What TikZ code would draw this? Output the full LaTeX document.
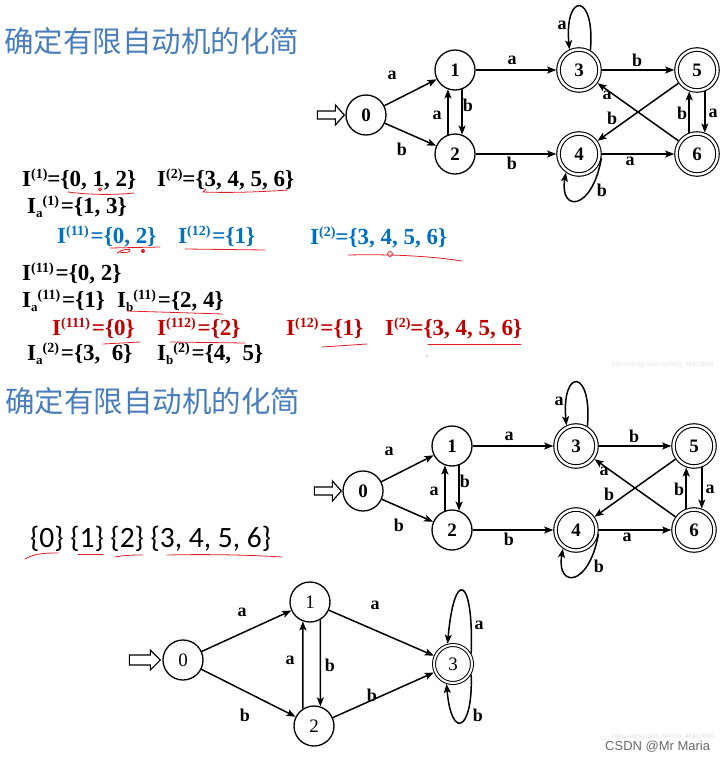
\documentclass[tikz,border=0pt]{standalone}
\usepackage{fontspec}
\setmainfont{Liberation Serif}
\newfontfamily\cjkf{Noto Sans CJK SC}
\newfontfamily\carlitof{Carlito}
\newfontfamily\arialf{Liberation Sans}
\usetikzlibrary{arrows.meta,calc}
\definecolor{titleblue}{RGB}{74,126,187}
\definecolor{fblue}{RGB}{0,112,192}
\definecolor{fred}{RGB}{192,0,0}
\definecolor{penred}{RGB}{226,32,38}
\newcommand{\Sp}[1]{\raisebox{8pt}{\fontsize{14}{14}\selectfont(#1)}}
\newcommand{\Sb}[1]{\raisebox{-4pt}{\fontsize{13}{13}\selectfont #1}}
\newcommand{\Iu}[1]{I\Sp{#1}}
\newcommand{\Iab}[2]{I\Sb{#1}\Sp{#2}}
\tikzset{
  st/.style={circle, draw, line width=1.3pt, minimum size=40pt, inner sep=0pt, outer sep=0.65pt, font=\fontsize{19}{19}\bfseries\selectfont},
  acc/.style={circle, draw, double, double distance=2.4pt, line width=1.1pt, minimum size=41pt, inner sep=0pt, outer sep=2.3pt, font=\fontsize{19}{19}\bfseries\selectfont},
  st3/.style={circle, draw, line width=1.3pt, minimum size=40pt, inner sep=0pt, outer sep=0.65pt, font=\fontsize{19}{19}\selectfont},
  acc3/.style={circle, draw, double, double distance=2pt, line width=1pt, minimum size=38pt, inner sep=0pt, outer sep=2pt, font=\fontsize{19}{19}\selectfont},
  tr/.style={-{Stealth[length=9pt,width=7pt,inset=2pt]}, line width=1.5pt},
  lbl/.style={font=\fontsize{18}{18}\bfseries\selectfont, inner sep=0pt},
  startarr/.style={line width=1.2pt, line join=miter},
  fml/.style={anchor=base west, font=\fontsize{23}{23}\bfseries\selectfont, inner sep=0pt},
  ttl/.style={anchor=west, font=\cjkf\fontsize{29.5}{29.5}\selectfont, text=titleblue, inner sep=0pt},
  pen/.style={penred, line width=0.8pt, line cap=round},
}
\newcommand{\bigdfa}[3]{%
\begin{scope}[shift={(#2,#3)}]
\node[st] (#1n0) at (366,-115) {0};
\node[st] (#1n1) at (455,-70) {1};
\node[st] (#1n2) at (455,-154) {2};
\node[acc] (#1n3) at (579,-70) {3};
\node[acc] (#1n5) at (697,-70) {5};
\node[acc] (#1n4) at (579,-154) {4};
\node[acc] (#1n6) at (697,-154) {6};
\draw[startarr] ($(#1n0.west)+(-1,0)$) -- ++(-9,10) -- ++(0,-6) -- ++(-18,0) -- ++(0,-8) -- ++(18,0) -- ++(0,-6) -- cycle;
\draw[tr] (#1n0) -- (#1n1);
\draw[tr] (#1n0) -- (#1n2);
\draw[tr] (#1n1.-70) -- (#1n2.70);
\draw[tr] (#1n2.110) -- (#1n1.-110);
\draw[tr] (#1n1) -- (#1n3);
\draw[tr] (#1n2) -- (#1n4);
\draw[tr] (#1n3) -- (#1n5);
\draw[tr] (#1n4) -- (#1n6);
\draw[tr] (#1n5.-70) -- (#1n6.70);
\draw[tr] (#1n6.110) -- (#1n5.-110);
\draw[tr] (#1n6) -- (#1n3);
\draw[tr] (#1n5) -- (#1n4);
\draw[tr] (#1n3.60) .. controls +(85:58) and +(95:58) .. (#1n3.115);
\draw[tr] (#1n4.-10) .. controls +(-100:55) and +(-100:40) .. (#1n4.-125);
\node[lbl] (#1l01) at (392,-75) {a};
\node[lbl] (#1l02) at (402,-149) {b};
\node[lbl] (#1l12) at (468,-105) {b};
\node[lbl] (#1l21) at (437,-115) {a};
\node[lbl] (#1l13) at (512,-60) {a};
\node[lbl] (#1l24) at (512,-163) {b};
\node[lbl] (#1l33) at (562,-25) {a};
\node[lbl] (#1l35) at (637,-60) {b};
\node[lbl] (#1l46) at (630,-161) {a};
\node[lbl] (#1l44) at (602,-190) {b};
\node[lbl] (#1l63) at (607,-95) {a};
\node[lbl] (#1l54) at (612,-118) {b};
\node[lbl] (#1l65) at (682,-113) {b};
\node[lbl] (#1l56) at (713,-113) {a};
\end{scope}}
\begin{document}
\begin{tikzpicture}[x=1pt,y=1pt]
\fill[white] (0,0) rectangle (724,-761);
\useasboundingbox (0,0) rectangle (724,-761);
% titles
\node[ttl] (title1) at (4,-41) {确定有限自动机的化简};
\node[ttl] (title2) at (5,-401) {确定有限自动机的化简};
% DFAs
\bigdfa{A}{0}{0}
\bigdfa{B}{-3}{-376}
% formulas
\node[fml] (f1a) at (22,-186) {\Iu{1}=\{0, 1, 2\}};
\node[fml] (f1b) at (157,-186) {\Iu{2}=\{3, 4, 5, 6\}};
\node[fml] (f2) at (27,-213) {\Iab{a}{1}\kern2pt=\{1, 3\}};
\node[fml, text=fblue] (f3a) at (57,-243) {\Iu{11}\kern2pt=\{0, 2\}};
\node[fml, text=fblue] (f3b) at (178,-243) {\Iu{12}\kern2pt=\{1\}};
\node[fml, text=fblue] (f3c) at (310,-244) {\Iu{2}=\{3, 4, 5, 6\}};
\node[fml] (f4) at (22,-280) {\Iu{11}\kern2pt=\{0, 2\}};
\node[fml] (f5a) at (22,-307) {\Iab{a}{11}\kern2pt=\{1\}};
\node[fml] (f5b) at (117,-307) {\Iab{b}{11}\kern2pt=\{2, 4\}};
\node[fml, text=fred] (f6a) at (52,-335) {\Iu{111}\kern2pt=\{0\}};
\node[fml, text=fred] (f6b) at (157,-335) {\Iu{112}\kern2pt=\{2\}};
\node[fml, text=fred] (f6c) at (286,-335) {\Iu{12}\kern2pt=\{1\}};
\node[fml, text=fred] (f6d) at (385,-335) {\Iu{2}=\{3, 4, 5, 6\}};
\node[fml] (f7a) at (27,-360) {\Iab{a}{2}\kern2pt=\{3,~~6\}};
\node[fml] (f7b) at (157,-360) {\Iab{b}{2}\kern2pt=\{4,~~5\}};
\node[anchor=base west, inner sep=0pt, font=\carlitof\fontsize{29.5}{29.5}\selectfont] (sets) at (30,-547) {\{0\} \{1\} \{2\} \{3, 4, 5, 6\}};
% pen marks
\draw[pen] (68,-192) .. controls (90,-195) and (115,-195) .. (134,-193);
\draw[pen] (100,-189.5) circle (1.5);
\draw[pen] (206,-189) -- (203,-192) .. controls (230,-193) and (260,-192) .. (288,-190);
\draw[pen] (110,-248) -- (160,-247);
\draw[pen] (117,-253) .. controls (122,-249) and (132,-248) .. (130,-251) .. controls (128,-253) and (122,-253) .. (120,-252);
\fill[penred] (143,-251) circle (2);
\draw[pen] (185,-249) -- (265,-250);
\draw[pen] (348,-255) .. controls (390,-254) and (430,-256) .. (462,-261);
\draw[pen] (390,-254) circle (2.5);
\draw[pen] (127,-311) -- (223,-314);
\draw[pen] (103,-344) -- (140,-342);
\draw[pen] (170,-342) -- (245,-343);
\draw[pen] (322,-347) -- (367,-344);
\draw[pen] (428,-344) -- (521,-344);
\fill[penred] (427,-356) circle (0.7);
\draw[pen] (25,-559) .. controls (35,-553) and (48,-553) .. (58,-553);
\draw[pen] (78,-554) -- (103,-554);
\draw[pen] (115,-557) .. controls (125,-555) and (135,-555) .. (143,-555);
\draw[pen] (167,-555) .. controls (210,-554) and (250,-555) .. (282,-557);
% third DFA
\node[st3] (cn0) at (183,-660) {0};
\node[st3] (cn1) at (310,-602) {1};
\node[st3] (cn2) at (314,-726) {2};
\node[acc3] (cn3) at (453,-664) {3};
\draw[startarr] ($(cn0.west)+(-2,0)$) -- ++(-10,10) -- ++(0,-5) -- ++(-21,0) -- ++(0,-10) -- ++(21,0) -- ++(0,-5) -- cycle;
\draw[tr] (cn0) -- (cn1);
\draw[tr] (cn0) -- (cn2);
\draw[tr] (cn2.123) -- (cn1.-110);
\draw[tr] (cn1.-60) -- (cn2.72);
\draw[tr] (cn1) -- (cn3);
\draw[tr] (cn2) -- (cn3);
\draw[tr] (cn3.30) .. controls +(88:77) and +(85:77) .. (cn3.105);
\draw[tr] (cn3.-30) .. controls +(-88:57) and +(-85:57) .. (cn3.-108);
\node[lbl] (cl01) at (242,-612) {a};
\node[lbl] (cl02) at (245,-715) {b};
\node[lbl] (cl21) at (290,-660) {a};
\node[lbl] (cl12) at (330,-665) {b};
\node[lbl] (cl13) at (375,-605) {a};
\node[lbl] (cl23) at (372,-695) {b};
\node[lbl] (cl33a) at (479,-625) {a};
\node[lbl] (cl33b) at (478,-715) {b};
% watermarks
\node[anchor=west, inner sep=0pt, font=\arialf\fontsize{6.5}{6.5}\selectfont, text=black!10] (wm1) at (612,-365) {https://blog.csdn.net/m0\_46413065};
\node[anchor=west, inner sep=0pt, font=\arialf\fontsize{6.5}{6.5}\selectfont, text=black!12] (wm2) at (612,-737) {https://blog.csdn.net/m0\_46413065};
\node[anchor=west, inner sep=0pt, font=\arialf\fontsize{13}{13}\selectfont, text=black!58] (wm3) at (605,-747) {CSDN @Mr Maria};
\end{tikzpicture}
\end{document}
